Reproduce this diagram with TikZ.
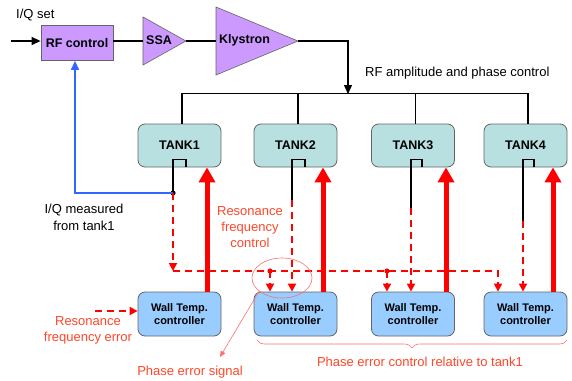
\documentclass[tikz,border=0pt]{standalone}
\usepackage{fontspec}
\setmainfont{Liberation Sans}
\usetikzlibrary{arrows.meta,shapes.geometric,decorations.pathreplacing}
\definecolor{purp}{RGB}{204,153,255}
\definecolor{tankc}{RGB}{185,224,224}
\definecolor{wallc}{RGB}{153,204,255}
\definecolor{edgec}{RGB}{100,100,100}
\definecolor{lbl}{RGB}{255,70,40}
\definecolor{thinred}{RGB}{255,110,110}
\definecolor{bluel}{RGB}{51,102,255}
\definecolor{sred}{RGB}{255,0,0}
\begin{document}
\begin{tikzpicture}[x=1pt,y=-1pt,
  box/.style={draw=edgec, line width=0.8pt, rounded corners=7pt, font=\fontsize{12.5}{14}\selectfont\bfseries},
  tankbox/.style={box, fill=tankc, minimum width=83pt, minimum height=43pt},
  wallbox/.style={box, fill=wallc, minimum width=83pt, minimum height=44pt, align=center, font=\fontsize{11}{13}\selectfont\bfseries},
  amp/.style={draw=edgec, fill=purp, line width=0.6pt},
  amptext/.style={anchor=west, font=\fontsize{12.5}{14}\selectfont\bfseries, inner sep=0pt},
  wire/.style={line width=1.3pt},
  probe/.style={line width=1.1pt},
  blktip/.style={-{Triangle[length=9pt,width=8pt]}},
  thickred/.style={sred, line width=5pt, -{Triangle[length=15pt,width=16pt]}},
  reddash/.style={sred, line width=1.8pt, dash pattern=on 7pt off 5pt, -{Triangle[length=8pt,width=8pt]}},
  thinline/.style={thinred, line width=0.6pt},
  lbltext/.style={lbl, font=\fontsize{13}{16}\selectfont, align=center, inner sep=0pt},
  blktext/.style={black, font=\fontsize{13}{16.5}\selectfont, align=center, inner sep=0pt}
]
\useasboundingbox (0,0) rectangle (572,380);

% RF chain
\node[box, sharp corners, fill=purp, minimum width=72pt, minimum height=35pt] (rf) at (77,43) {RF control};
\coordinate (in) at (11,41);
\node[blktext, anchor=west] (iqset) at (16,15) {I/Q set};
\draw[wire, blktip] (in) -- (in -| rf.west);

\draw[amp] (143,17) -- (143,65) -- (186,41) -- cycle;
\coordinate (ssaL) at (143,41); \coordinate (ssaR) at (186,41);
\node[amptext] (ssa) at (146,40) {SSA};
\draw[amp] (216,7) -- (216,75) -- (298,41) -- cycle;
\coordinate (klyL) at (216,41); \coordinate (klyR) at (298,41);
\node[amptext] (kly) at (219,40) {Klystron};

\draw[wire] (rf.east |- ssaL) -- (ssaL);
\draw[wire] (ssaR) -- (klyL);
\coordinate (bend) at (348,41);
\coordinate (busC) at (348,94);
\draw[wire, blktip] (klyR) -- (bend) -- (busC);
\node[blktext, anchor=west] (rfamp) at (365,73) {RF amplitude and phase control};

% Tanks
\node[tankbox] (t1) at (179.5,145.5) {TANK1};
\node[tankbox] (t2) at (295.5,145.5) {TANK2};
\node[tankbox] (t3) at (413,145.5) {TANK3};
\node[tankbox] (t4) at (525.5,145.5) {TANK4};

\draw[wire] ([xshift=2.5pt]t1.north) -- ++(0,-30) -| ([xshift=2.5pt]t4.north);
\draw[wire] ([xshift=2.5pt]t2.north) -- ++(0,-30);
\draw[wire] ([xshift=2.5pt]t3.north) -- ++(0,-30);

% Controllers
\node[wallbox] (c1) at (179.5,314) {Wall Temp.\\controller};
\node[wallbox] (c2) at (295.5,314) {Wall Temp.\\controller};
\node[wallbox] (c3) at (413,314) {Wall Temp.\\controller};
\node[wallbox] (c4) at (525.5,314) {Wall Temp.\\controller};

% probes
\coordinate (d1) at (173,193);
\coordinate (p2) at (292,200);
\coordinate (p3) at (411,208);
\coordinate (p4) at (523,221);
\draw[probe] ([xshift=6.5pt]t1.south) -- ++(0,-8) -| (d1);
\draw[probe] ([xshift=9.5pt]t2.south) -- ++(0,-8) -| (p2);
\draw[probe] ([xshift=9pt]t3.south) -- ++(0,-8) -| (p3);
\draw[probe] ([xshift=8.5pt]t4.south) -- ++(0,-8) -| (p4);
\fill (d1) circle (2.6pt);

% blue feedback
\draw[bluel, wire, blktip] (d1) -| ([xshift=-2pt]rf.south);

% thick red arrows
\draw[thickred] ([xshift=27.5pt]c1.north) -- ([xshift=27.5pt]t1.south);
\draw[thickred] ([xshift=27.5pt]c2.north) -- ([xshift=27.5pt]t2.south);
\draw[thickred] ([xshift=33pt]c3.north) -- ([xshift=33pt]t3.south);
\draw[thickred] ([xshift=27.5pt]c4.north) -- ([xshift=27.5pt]t4.south);

% dashed phase error lines
\coordinate (h0) at (173,271);
\coordinate (j2) at (270,271);
\coordinate (j3) at (387,271);
\draw[reddash] (d1) -- (h0);
\draw[reddash] (h0) -| ([xshift=-27.5pt]c4.north);
\fill[sred] (j2) circle (2.6pt);
\fill[sred] (j3) circle (2.6pt);
\draw[reddash] (j2) -- (j2 |- c2.north);
\draw[reddash] (j3) -- (j3 |- c3.north);
\draw[reddash] (p2) -- (p2 |- c2.north);
\draw[reddash] (p3) -- (p3 |- c3.north);
\draw[reddash] (p4) -- (p4 |- c4.north);

% resonance frequency error input
\coordinate (rfe) at (95,311);
\draw[reddash] (rfe) -- (rfe -| c1.west);

% ellipse and pointer
\node[draw=thinred, line width=0.6pt, ellipse, minimum width=60pt, minimum height=40pt, inner sep=0pt] (ell) at (282,278) {};
\coordinate (pes) at (220,357);
\draw[thinline, -{Triangle[length=6pt,width=5pt]}] (ell.210) -- (pes);

% brace
\draw[thinline, decorate, decoration={brace, amplitude=8pt, mirror}] (257,340) -- (567,340);

% labels
\node[blktext] (iqm) at (84,217.5) {I/Q measured\\from tank1};
\node[lbltext] (rfc) at (250,227) {Resonance\\frequency\\control};
\node[lbltext] (rfer) at (88,330) {Resonance\\frequency error};
\node[lbltext] (pesl) at (190,372) {Phase error signal};
\node[lbltext] (pecl) at (420,362) {Phase error control relative to tank1};
\end{tikzpicture}
\end{document}
